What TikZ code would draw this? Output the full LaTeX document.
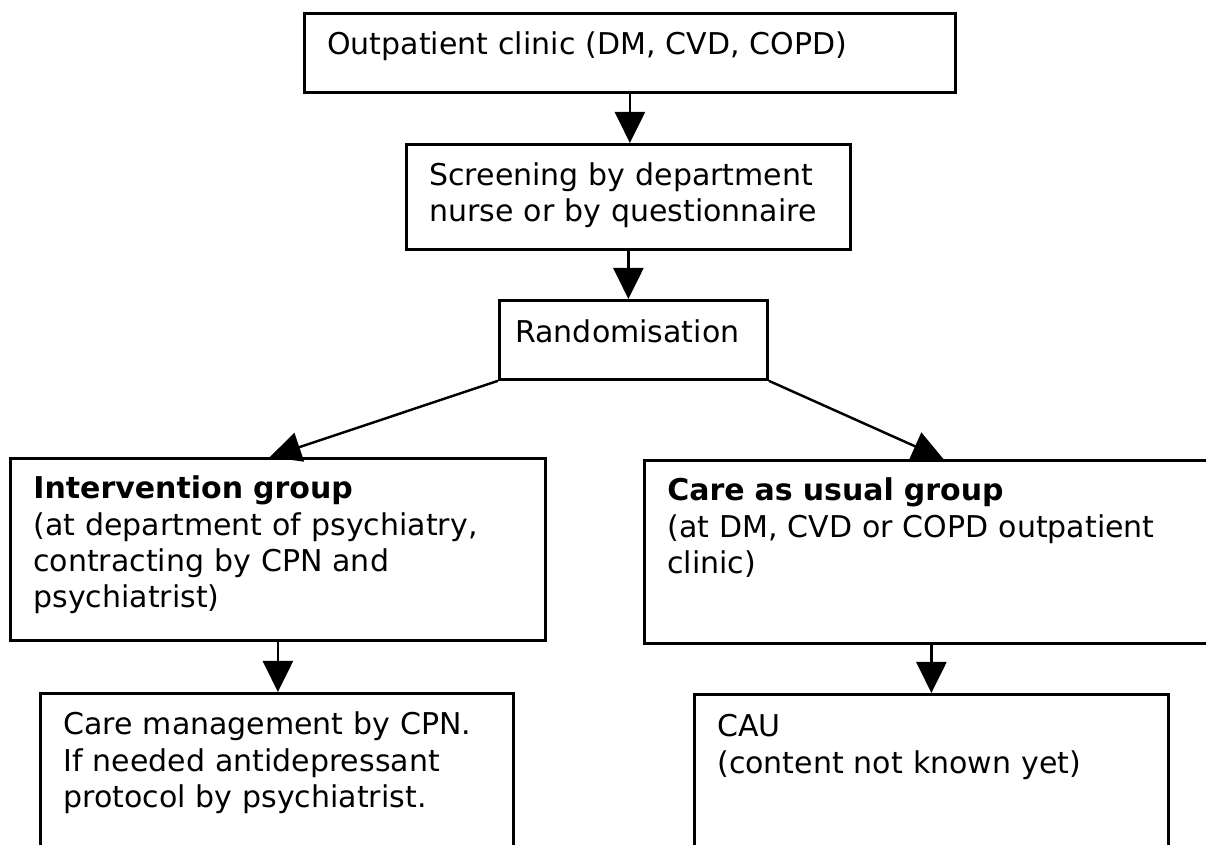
\documentclass[tikz,border=0pt]{standalone}
\usepackage{fontspec}
\setmainfont{DejaVu Sans}
\usetikzlibrary{arrows.meta}
\tikzset{>={Triangle[length=0.62cm,width=0.6cm]}}
\newcommand{\flowfont}{\fontsize{17.07pt}{20.49pt}\selectfont}
\tikzset{
  box/.style={draw,line width=1.6pt,anchor=north west,inner sep=0pt},
  boxtext/.style={anchor=base west,inner sep=0pt,text width=11cm,align=left,font=\flowfont},
  flow/.style={->,line width=1.4pt}
}

\begin{document}
\begin{tikzpicture}
      \clip (0,0) rectangle (24.12,-16.9);
      \node [box,minimum width=13.02cm,minimum height=1.58cm] (outpat) at (6.06,-0.24) {};
      \node [box,minimum width=8.88cm,minimum height=2.10cm] (screen) at (8.10,-2.86) {};
      \node [box,minimum width=5.36cm,minimum height=1.58cm] (random) at (9.96,-5.98) {};
      \node [box,minimum width=10.70cm,minimum height=3.64cm] (interv) at (0.18,-9.14) {};
      \node [box,minimum width=11.48cm,minimum height=3.66cm] (usual) at (12.86,-9.18) {};
      \node [box,minimum width=9.46cm,minimum height=4cm] (caremgmt) at (0.78,-13.84) {};
      \node [box,minimum width=9.48cm,minimum height=4cm] (cau) at (13.86,-13.86) {};

      \node [boxtext] (outpat-txt) at ([shift={(0.48,-0.86)}]outpat.north west) {Outpatient clinic (DM, CVD, COPD)};
      \node [boxtext] (screen-txt) at ([shift={(0.48,-0.86)}]screen.north west) {Screening by department\\nurse or by questionnaire};
      \node [boxtext] (random-txt) at ([shift={(0.34,-0.88)}]random.north west) {Randomisation};
      \node [boxtext] (interv-txt) at ([shift={(0.48,-0.84)}]interv.north west) {\textbf{Intervention group}\\(at department of psychiatry,\\contracting by CPN and\\psychiatrist)};
      \node [boxtext] (usual-txt) at ([shift={(0.48,-0.84)}]usual.north west) {\textbf{Care as usual group}\\(at DM, CVD or COPD outpatient\\clinic)};
      \node [boxtext] (caremgmt-txt) at ([shift={(0.48,-0.86)}]caremgmt.north west) {Care management by CPN.\\If needed antidepressant\\protocol by psychiatrist.};
      \node [boxtext] (cau-txt) at ([shift={(0.48,-0.88)}]cau.north west) {CAU\\(content not known yet)};

      \draw [flow] (outpat.south) -- (outpat.south |- screen.north);
      \draw [flow] (screen.south) -- (screen.south |- random.north);
      \draw [flow] (random.south west) -- ([xshift=-0.16cm]interv.north);
      \draw [flow] (random.south east) -- ([xshift=0.24cm]usual.north);
      \draw [flow] (interv.south) -- (interv.south |- caremgmt.north);
      \draw [flow] (usual.south) -- (usual.south |- cau.north);
\end{tikzpicture}
\end{document}
